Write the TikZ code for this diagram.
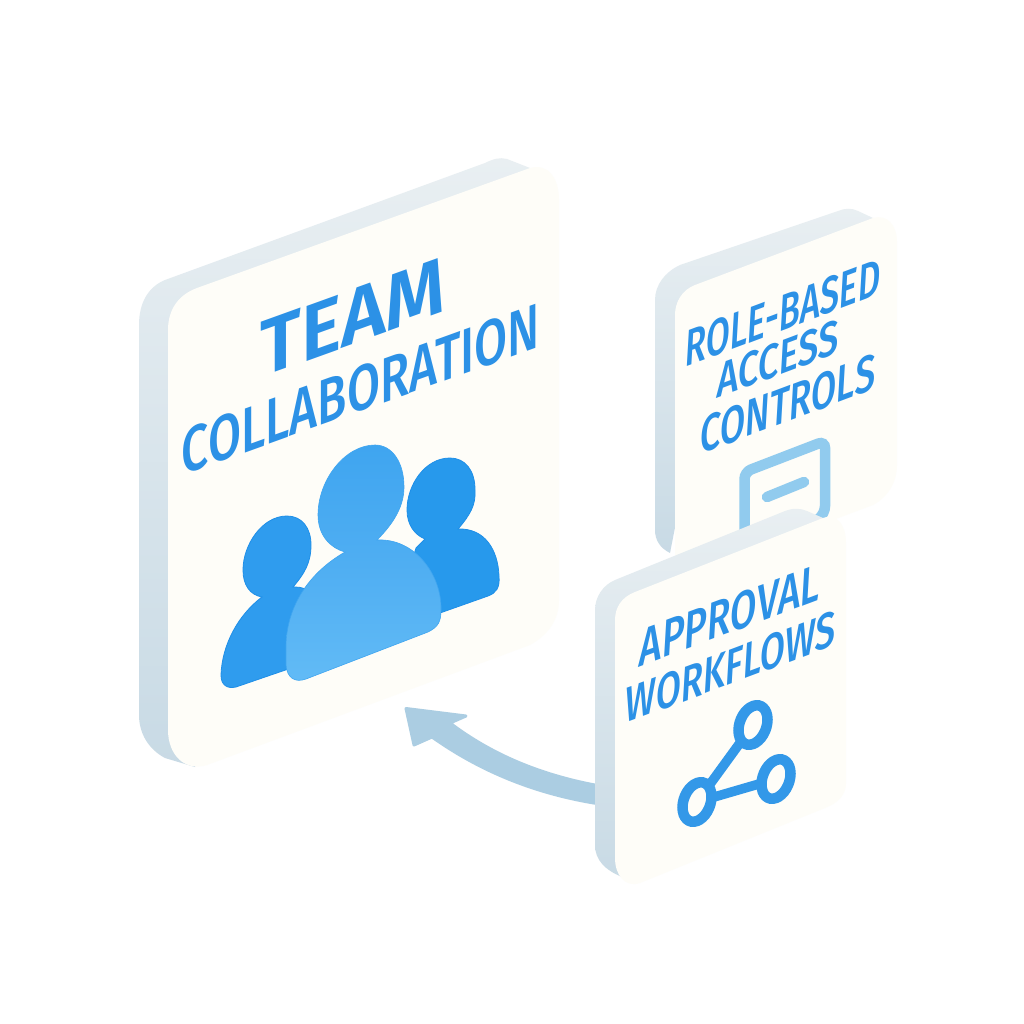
\documentclass[tikz,border=0pt]{standalone}
\usepackage{fontspec}
\usepackage{graphicx}
\setmainfont{Fira Sans}
\newfontfamily\medfont{Fira Sans Medium}
\newfontfamily\semifont{Fira Sans SemiBold}
\definecolor{cardface}{HTML}{FEFDF8}
\definecolor{edgetop}{HTML}{E9EFF2}
\definecolor{edgebot}{HTML}{C8DAE5}
\definecolor{inkblue}{HTML}{2C91E6}
\definecolor{paleicon}{HTML}{91CBEE}
\definecolor{arrowblue}{HTML}{ABCDE2}
\definecolor{graphblue}{HTML}{3398E8}
\definecolor{rimblue}{HTML}{1F8FE8}
\definecolor{leftp}{HTML}{2F9CEE}
\definecolor{rightp}{HTML}{2799EC}
\definecolor{midtop}{HTML}{3FA5F0}
\definecolor{midmid}{HTML}{4FAEF2}
\definecolor{midbot}{HTML}{62BBF6}
\newcommand\fittext[3]{\resizebox{#1pt}{#2pt}{\semifont #3}}
\newcommand\fitmed[3]{\resizebox{#1pt}{#2pt}{\medfont #3}}
\tikzset{
  bigtxt/.style={inner sep=0pt,text=inkblue,transform shape,yslant=.36},
  smalltxt/.style={inner sep=0pt,text=inkblue,transform shape,yslant=.375,xslant=.06},
  cardside/.style={top color=edgetop,bottom color=edgebot,draw=none},
  cardfront/.style={fill=cardface,draw=none},
  ringstyle/.style={draw=graphblue,line width=10.5pt,fill=cardface},
  linkstyle/.style={draw=graphblue,line width=9.5pt},
}
\begin{document}
\begin{tikzpicture}[x=1pt,y=-1pt]
\useasboundingbox (0,0) rectangle (1024,1024);
\fill[white] (0,0) rectangle (1024,1024);

% large card
\path[cardside] (139,325) .. controls (139,303) and (148,287) .. (165,280) -- (485,163) .. controls (493,159) and (500,157) .. (507,159) -- (530,168) -- (300,500) -- (195,767) -- (165,758) .. controls (150,750) and (139,735) .. (139,715) -- cycle;
\path[cardfront] (168,330) .. controls (168,310) and (178,295) .. (197,288) -- (530,168) .. controls (548,163) and (559,178) .. (559,200) -- (559,600) .. controls (559,620) and (548,635) .. (530,645) -- (207,765) .. controls (185,772) and (168,755) .. (168,730) -- cycle;
\node[bigtxt] (team) at (353,317) {\fittext{185}{55}{TEAM}};
\node[bigtxt] (collab) at (361,389) {\fitmed{358}{45}{COLLABORATION}};

% people
\path[draw=rimblue,line width=.8pt,fill=rightp] (458,529) .. controls (470,515) and (476,505) .. (475,490) .. controls (475,470) and (465,458) .. (450,458) .. controls (425,458) and (407,485) .. (407,510) .. controls (407,525) and (415,535) .. (425,539) -- (416,548) -- (400,600) -- (440,613) -- (488,596) .. controls (496,593) and (500,588) .. (499,576) .. controls (498,550) and (485,528) .. (458,529) -- cycle;
\path[draw=rimblue,line width=.8pt,fill=leftp] (293,587) .. controls (305,573) and (311,562) .. (311,545) .. controls (311,528) and (302,516) .. (287,516) .. controls (262,516) and (243,545) .. (243,570) .. controls (243,585) and (250,595) .. (262,597) .. controls (238,615) and (222,645) .. (221,675) .. controls (221,685) and (227,689) .. (236,687) -- (300,665) -- (320,600) -- (307,590) .. controls (302,587) and (297,587) .. (293,587) -- cycle;
\path[draw=midtop,line width=.6pt,top color=midtop,bottom color=midbot,middle color=midmid] (377,540) .. controls (395,522) and (404,505) .. (404,487) .. controls (404,462) and (392,445) .. (375,445) .. controls (345,445) and (318,480) .. (318,515) .. controls (318,535) and (330,548) .. (345,552) .. controls (310,572) and (287,605) .. (286,645) -- (286,665) .. controls (287,678) and (295,683) .. (306,679) -- (428,632) .. controls (438,627) and (441,622) .. (441,610) .. controls (442,575) and (415,538) .. (377,540) -- cycle;

% role card
\path[cardside] (655,300) .. controls (655,285) and (665,272) .. (680,265) -- (838,211) .. controls (845,208) and (852,208) .. (858,211) -- (873,218) -- (700,400) -- (670,553) .. controls (660,548) and (655,540) .. (655,530) -- cycle;
\path[cardfront] (675,315) .. controls (675,302) and (682,290) .. (695,285) -- (873,218) .. controls (887,214) and (897,225) .. (897,242) -- (897,465) .. controls (897,482) and (888,497) .. (873,505) -- (700,570) -- (675,560) -- cycle;
\node[smalltxt] (role) at (783,313) {\fitmed{195}{36}{ROLE-BASED}};
\node[smalltxt] (access) at (778,359) {\fitmed{122}{34}{ACCESS}};
\node[smalltxt] (controls) at (788,404) {\fitmed{175}{36}{CONTROLS}};
\draw[draw=paleicon,line width=10.5pt,rounded corners=7pt] (744.5,570) -- (744.5,472) -- (825,441) -- (825,513) -- (812,525);
\draw[draw=paleicon,line width=10.5pt,line cap=round] (767,497) -- (804,482);

% arrow
\coordinate (arrowtip) at (406,708.5);
\coordinate (arrowtail) at (600,796);
\path[fill=arrowblue,draw=arrowblue,line width=3pt,line join=round] (arrowtip) -- (466,716) -- (450,723) .. controls (495,757) and (545,776) .. (600,786) -- (600,804) .. controls (535,794) and (480,771) .. (432,737) -- (414,745) -- cycle;

% approval card
\path[cardside] (595,610) .. controls (595,597) and (603,585) .. (615,580) -- (785,511) .. controls (793,508) and (800,508) .. (807,511) -- (823,518) -- (700,700) -- (637,883) -- (622,877) .. controls (605,870) and (595,860) .. (595,845) -- cycle;
\path[cardfront] (615,620) .. controls (615,607) and (622,597) .. (635,592) -- (823,518) .. controls (837,513) and (846,525) .. (846,543) -- (846,783) .. controls (846,795) and (838,803) .. (825,808) -- (640,883) .. controls (625,888) and (615,875) .. (615,858) -- cycle;
\node[smalltxt] (approval) at (730,615) {\fitmed{180}{37}{APPROVAL}};
\node[smalltxt] (workflows) at (731,667) {\fitmed{210}{35}{WORKFLOWS}};

% graph icon
\coordinate (gtop) at (753,725);
\coordinate (gright) at (776,779);
\coordinate (gleft) at (697,802);
\draw[linkstyle] (gtop) -- (gleft) -- (gright);
\foreach \c in {gtop,gright,gleft}
  \path[ringstyle,shift={(\c)},yslant=.37] (0,0) circle[x radius=14.5,y radius=19];
\end{tikzpicture}
\end{document}
